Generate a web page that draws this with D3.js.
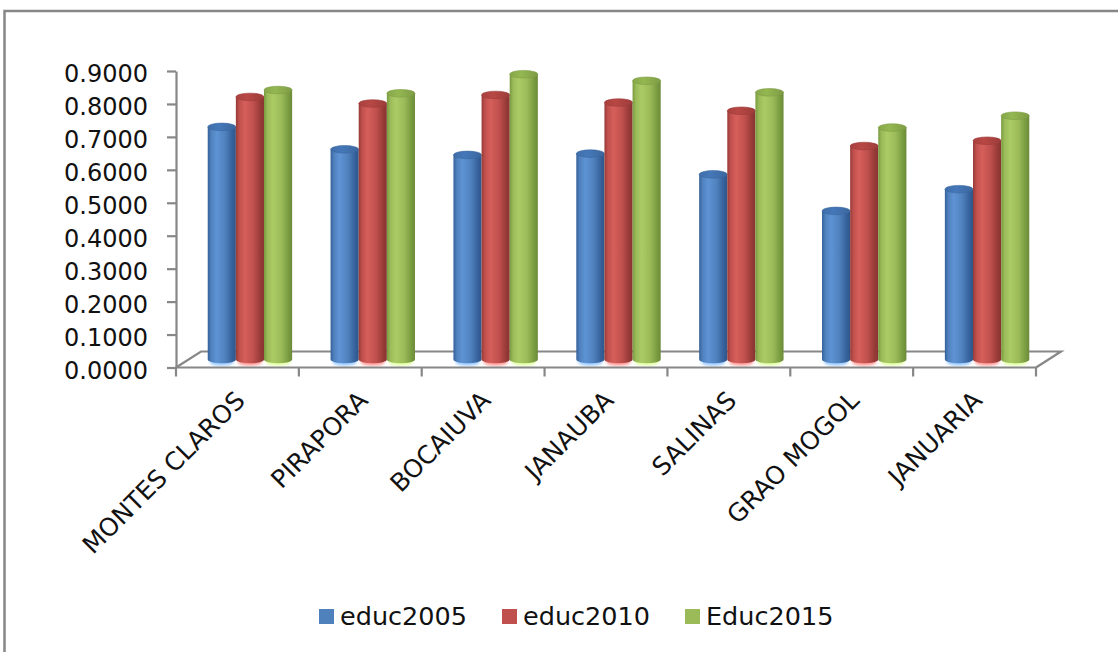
<!DOCTYPE html>
<html>
<head>
<meta charset="utf-8">
<script src="https://cdn.jsdelivr.net/npm/d3@7"></script>
<style>
  html, body { margin: 0; padding: 0; background: #fff; }
  svg { display: block; }
  text { font-family: "DejaVu Sans", sans-serif; fill: #111; }
</style>
</head>
<body>
<svg id="chart" width="1118" height="652"></svg>
<script>
// Education index by municipality, three survey years
const categories = ["MONTES CLAROS", "PIRAPORA", "BOCAIUVA", "JANAUBA", "SALINAS", "GRAO MOGOL", "JANUARIA"];
const seriesNames = ["educ2005", "educ2010", "Educ2015"];
const educ2005 = [0.706, 0.638, 0.621, 0.625, 0.562, 0.451, 0.517];
const educ2010 = [0.797, 0.777, 0.803, 0.780, 0.755, 0.648, 0.664];
const educ2015 = [0.818, 0.808, 0.866, 0.846, 0.811, 0.704, 0.740];
const yTicks = [0, 0.1, 0.2, 0.3, 0.4, 0.5, 0.6, 0.7, 0.8, 0.9];

const seriesValues = [educ2005, educ2010, educ2015];
const palette = {
  educ2005: { base: "#4f81bd", dark: "#35609a", light: "#5e93d4", top: "#3f6ea9" },
  educ2010: { base: "#c0504d", dark: "#963a37", light: "#d65f5b", top: "#a8413e" },
  Educ2015: { base: "#9bbb59", dark: "#789a3f", light: "#abcb66", top: "#87a74a" }
};

const svg = d3.select("#chart");
const axisColor = "#878787";

// plot frame: front floor edge, value axis, oblique depth offset
const left = 176, right = 1036, floorY = 367.5;
const depth = { dx: 25, dy: -16 };

const x0 = d3.scaleBand().domain(categories).range([left, right]).padding(0);
const groupW = x0.bandwidth() * 0.687;
const x1 = d3.scaleBand().domain(seriesNames).range([0, groupW]).padding(0);
const y = d3.scaleLinear().domain([0, 0.9]).range([floorY, 71]);

// outer chart border
svg.append("rect")
  .attr("x", 4.5).attr("y", 11).attr("width", 1130).attr("height", 700)
  .attr("fill", "none").attr("stroke", axisColor).attr("stroke-width", 2.5);

// cylinder gradients
const defs = svg.append("defs");
seriesNames.forEach(name => {
  const c = palette[name];
  const g = defs.append("linearGradient").attr("id", "grad-" + name)
    .attr("x1", "0%").attr("x2", "100%").attr("y1", "0%").attr("y2", "0%");
  [[0, c.dark], [0.12, c.base], [0.32, c.light], [0.62, c.base], [0.88, c.dark], [1, d3.color(c.dark).darker(0.3)]]
    .forEach(([o, col]) => g.append("stop").attr("offset", o).attr("stop-color", col));
  const t = defs.append("linearGradient").attr("id", "top-" + name)
    .attr("x1", "0%").attr("x2", "100%").attr("y1", "0%").attr("y2", "0%");
  [[0, c.top], [0.4, d3.color(c.top).brighter(0.25)], [1, d3.color(c.top).darker(0.2)]]
    .forEach(([o, col]) => t.append("stop").attr("offset", o).attr("stop-color", col));
});
defs.append("filter").attr("id", "soft")
  .append("feGaussianBlur").attr("stdDeviation", 1.6);

// floor outline (back part, behind the columns)
const floor = svg.append("g").attr("fill", "none").attr("stroke", axisColor).attr("stroke-width", 2.2);
floor.append("path").attr("d", d3.line()([
  [left, floorY], [left + depth.dx, floorY + depth.dy],
  [right + depth.dx, floorY + depth.dy], [right, floorY]
]));

// columns as cylinders, sitting at mid-depth of the floor
const midDx = depth.dx / 2, midDy = depth.dy / 2;
const rx = x1.bandwidth() / 2, ry = 3.8;
const bars = svg.append("g");
categories.forEach((cat, i) => {
  seriesNames.forEach((name, s) => {
    const v = seriesValues[s][i];
    const cx = x0(cat) + midDx + (x0.bandwidth() - groupW) / 2 + x1(name) + rx;
    const yBot = y(0) + midDy;
    const yTop = y(v) + midDy;
    const c = palette[name];
    // soft reflection under the base
    bars.append("ellipse").attr("cx", cx).attr("cy", yBot + 2.5)
      .attr("rx", rx - 2).attr("ry", ry)
      .attr("fill", d3.color(c.base).brighter(0.9)).attr("opacity", 0.7)
      .attr("filter", "url(#soft)");
    bars.append("path")
      .attr("d", `M${cx - rx},${yTop} L${cx - rx},${yBot} A${rx},${ry} 0 0 0 ${cx + rx},${yBot} L${cx + rx},${yTop} Z`)
      .attr("fill", `url(#grad-${name})`);
    bars.append("ellipse").attr("cx", cx).attr("cy", yTop)
      .attr("rx", rx).attr("ry", ry)
      .attr("fill", `url(#top-${name})`)
      .attr("stroke", d3.color(c.top).darker(0.2)).attr("stroke-width", 0.6);
  });
});

// front floor edge with category dividers
const front = svg.append("g").attr("stroke", axisColor).attr("stroke-width", 2.2).attr("fill", "none");
front.append("line").attr("x1", left).attr("x2", right).attr("y1", floorY).attr("y2", floorY);
const bounds = categories.map(c => x0(c)).concat([right]);
front.selectAll("line.div").data(bounds).join("line").attr("class", "div")
  .attr("x1", d => d).attr("x2", d => d).attr("y1", floorY).attr("y2", floorY + 9);

// value axis
const yAxis = svg.append("g").attr("transform", `translate(${left},0)`)
  .call(d3.axisLeft(y).tickValues(yTicks).tickFormat(d3.format(".4f")).tickSize(9).tickPadding(19).tickSizeOuter(0));
yAxis.select(".domain").attr("stroke", axisColor).attr("stroke-width", 2.2);
yAxis.selectAll(".tick line").attr("stroke", axisColor).attr("stroke-width", 2.2);
yAxis.selectAll(".tick text")
  .attr("dy", "0.45em")
  .style("font-family", "'DejaVu Sans', sans-serif").style("font-size", "24px").attr("fill", "#111");

// rotated category labels
svg.append("g").selectAll("text").data(categories).join("text")
  .attr("transform", d => `translate(${x0(d) + x0.bandwidth() / 2 + 9},402) rotate(-45)`)
  .attr("text-anchor", "end")
  .style("font-size", "25px")
  .text(d => d);

// legend
const legendX = [319, 502, 685];
const legend = svg.append("g");
seriesNames.forEach((name, s) => {
  legend.append("rect").attr("x", legendX[s]).attr("y", 609).attr("width", 15).attr("height", 15)
    .attr("fill", palette[name].base);
  legend.append("text").attr("x", legendX[s] + 21).attr("y", 625)
    .style("font-size", "25.5px").text(name);
});
</script>
</body>
</html>
